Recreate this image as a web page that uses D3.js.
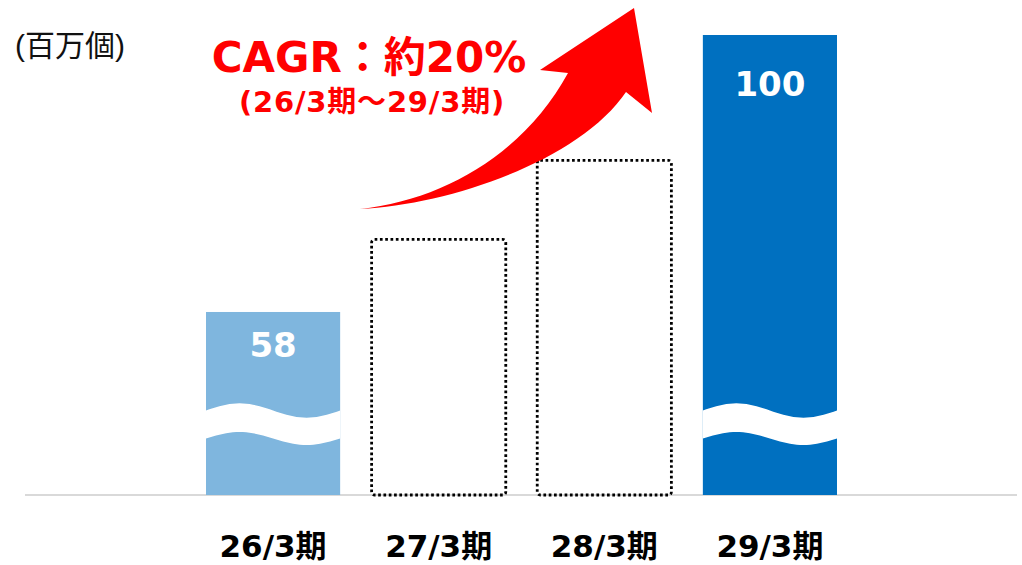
<!DOCTYPE html>
<html><head><meta charset="utf-8">
<script src="https://cdn.jsdelivr.net/npm/d3@7/dist/d3.min.js"></script>
<style>
html,body{margin:0;padding:0;background:#fff;}
svg{display:block;}
</style></head>
<body>
<svg id="chart" width="1022" height="565"></svg>
<script>
const categories = ["26/3期", "27/3期", "28/3期", "29/3期"];
const values = [58, 69, 81, 100];
const valueLabels = ["58", null, null, "100"];
const barStyles = ["light", "dotted", "dotted", "dark"];
const waveBars = [true, false, false, true];
const unitLabel = "(百万個)";
const cagrTitle = "CAGR：約20%";
const cagrSub = "(26/3期～29/3期)";
const axisFloor = 30.25; // broken axis: value at baseline

const W = 1022, H = 565;
const svg = d3.select("#chart");
const latin = "'DejaVu Sans','Noto Sans CJK JP',sans-serif";

const x = d3.scaleBand().domain(categories).range([206, 837]).paddingInner(0.19).paddingOuter(0);
const y = d3.scaleLinear().domain([axisFloor, 100]).range([495, 35]);

// baseline
svg.append("line").attr("x1", 25).attr("x2", 1017).attr("y1", y(axisFloor)).attr("y2", y(axisFloor))
  .attr("stroke", "#d9d9d9").attr("stroke-width", 2);

const colors = {light: "#7fb6de", dark: "#0070c0"};

const g = svg.append("g");
categories.forEach((c, i) => {
  const bx = x(c), bw = x.bandwidth(), top = y(values[i]), base = y(axisFloor);
  if (barStyles[i] === "dotted") {
    g.append("rect").attr("x", bx).attr("y", top).attr("width", bw).attr("height", base - top)
      .attr("rx", 3).attr("fill", "none").attr("stroke", "#000").attr("stroke-width", 2.8)
      .attr("stroke-dasharray", "2.7 2.6");
  } else {
    g.append("rect").attr("x", bx).attr("y", top).attr("width", bw).attr("height", base - top)
      .attr("fill", colors[barStyles[i]]);
  }
  if (waveBars[i]) {
    const n = 40, A = 7.2, cTop = 410.5, cBot = 438.5;
    const pts = d3.range(n + 1).map(k => bx + bw * k / n);
    const ph = xx => Math.sin(2 * Math.PI * (xx - bx) / bw);
    const topPts = pts.map(xx => [xx, cTop - A * ph(xx)]);
    const botPts = pts.slice().reverse().map(xx => [xx, cBot - 6.5 * ph(xx)]);
    const line = d3.line().curve(d3.curveLinear);
    g.append("path").attr("d", line(topPts.concat(botPts)) + "Z").attr("fill", "#fff");
  }
  if (valueLabels[i]) {
    g.append("text").attr("x", bx + bw / 2).attr("y", top + (i === 0 ? 45 : 61))
      .attr("text-anchor", "middle").attr("fill", "#fff")
      .style("font-family", latin).style("font-weight", "bold").style("font-size", "34px")
      .text(valueLabels[i]);
  }
  svg.append("text").attr("x", bx + bw / 2).attr("y", 557).attr("text-anchor", "middle")
    .attr("fill", "#000").style("font-family", latin).style("font-weight", "bold").style("font-size", "31px")
    .text(c);
});

// unit label
svg.append("text").attr("x", 15).attr("y", 56).attr("fill", "#111")
  .style("font-family", "'Liberation Sans','Noto Sans CJK JP',sans-serif").style("font-size", "30px")
  .text(unitLabel);

// arrow
const arrow = d3.path();
arrow.moveTo(360, 209);
arrow.bezierCurveTo(445, 200, 525, 152, 568, 73);
arrow.lineTo(540, 70);
arrow.lineTo(634, 8);
arrow.lineTo(652, 113);
arrow.lineTo(626, 92);
arrow.bezierCurveTo(580, 160, 450, 205, 360, 209);
arrow.closePath();
svg.append("path").attr("d", arrow.toString()).attr("fill", "#ff0000");

// CAGR text
svg.append("text").attr("x", 369).attr("y", 72).attr("text-anchor", "middle").attr("fill", "#ff0000")
  .style("font-family", latin).style("font-weight", "bold").style("font-size", "42px").text(cagrTitle);
svg.append("text").attr("x", 372).attr("y", 112).attr("text-anchor", "middle").attr("fill", "#ff0000")
  .style("font-family", latin).style("font-weight", "bold").style("font-size", "29px")
  .style("letter-spacing", "0.8px").text(cagrSub);
</script>
</body></html>
